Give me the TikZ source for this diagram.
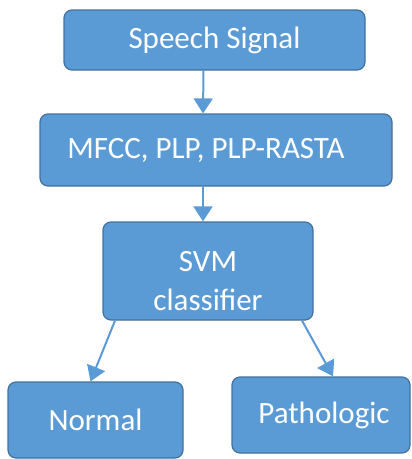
\documentclass[tikz,border=0pt]{standalone}
\usepackage{fontspec}
\setmainfont{Carlito}
\usepackage{xcolor}
\usetikzlibrary{arrows.meta}
\definecolor{boxfill}{HTML}{5B9BD5}
\definecolor{boxline}{HTML}{41719C}

\begin{document}
\begin{tikzpicture}[x=1pt, y=-1pt,
  block/.style={draw=boxline, line width=1.2pt, fill=boxfill, rounded corners=8pt, text=white, font=\fontsize{31}{39}\selectfont, align=center, inner sep=0pt},
  flow/.style={draw=boxfill, line width=2pt, -{Triangle[width=19pt, length=15pt]}}]
\useasboundingbox (0,0) rectangle (412,459);
\node[block, minimum width=301pt, minimum height=60pt] (speech) at (214.5,40) {Speech Signal};
\node[block, minimum width=352pt, minimum height=72pt] (feat) at (216,150) {MFCC, PLP, PLP-RASTA\hspace*{20pt}};
\node[block, minimum width=210pt, minimum height=98pt] (svm) at (208,271) {\rule{0pt}{40pt}SVM\\classifier};
\node[block, minimum width=175pt, minimum height=76pt] (normal) at (95.5,420) {Normal};
\node[block, minimum width=178pt, minimum height=76pt] (patho) at (321,415) {\hspace*{6pt}Pathologic};
\draw[flow] ([xshift=-11pt]speech.south) -- ([xshift=-13pt]feat.north);
\draw[flow] ([xshift=-13pt]feat.south) -- ([xshift=-5pt]svm.north);
\draw[flow] ([xshift=-93pt]svm.south) -- ([xshift=-5pt]normal.north);
\draw[flow] ([xshift=94pt]svm.south) -- ([xshift=12pt]patho.north);
\end{tikzpicture}
\end{document}
